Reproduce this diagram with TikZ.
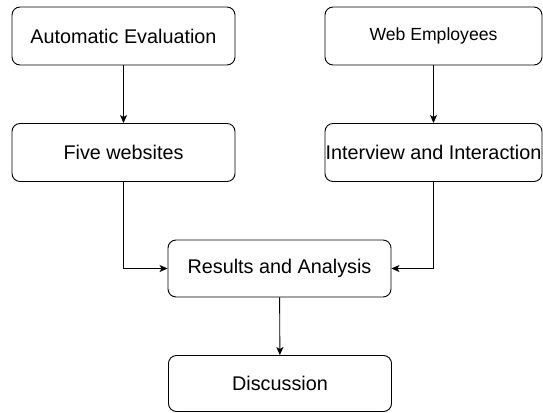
\documentclass[tikz,border=0pt]{standalone}
\usepackage{fontspec}
\setmainfont{Liberation Sans}
\usetikzlibrary{arrows.meta}
\begin{document}
\begin{tikzpicture}[x=1pt,y=-1pt,
  box/.style={draw=black, line width=0.9pt, rounded corners=8pt, inner sep=0pt,
    minimum height=58pt, align=center, font=\fontsize{19.8}{24}\selectfont},
  conn/.style={draw=black, line width=0.9pt, -{Stealth[length=8pt,width=7pt,inset=2pt]}}
]
\useasboundingbox (0,0) rectangle (543,412);
\node[box, minimum width=223pt] (ae) at (123.5,36) {Automatic Evaluation};
\node[box, minimum width=223pt] (fw) at (123.5,152.5) {Five websites};
\node[box, minimum width=217pt, font=\fontsize{17.6}{22}\selectfont] (we) at (433.5,36) {Web Employees};
\node[box, minimum width=217pt] (ii) at (433.5,152.5) {Interview and Interaction};
\node[box, minimum width=223pt, minimum height=57pt] (res) at (279.5,268.5) {Results and Analysis};
\node[box, minimum width=223pt, minimum height=56pt] (dis) at (280,383.5) {Discussion};
\draw[conn] (ae) -- (fw);
\draw[conn] (we) -- (ii);
\draw[conn] (fw.south) |- (res.west);
\draw[conn] (ii.south) |- (res.east);
\draw[conn] (res) -- (dis);
\end{tikzpicture}
\end{document}
